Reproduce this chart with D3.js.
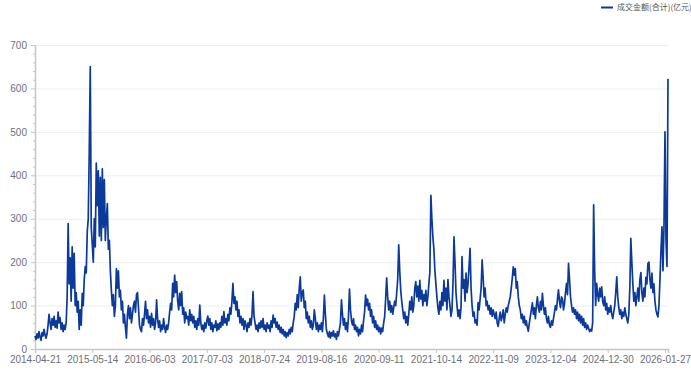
<!DOCTYPE html>
<meta charset="utf-8">
<style>
    body {
        margin: 0;
        background: #fff;
        font-family: 'Liberation Sans', Arial, sans-serif;
    }
    .axis text { fill: #6e7079; }
    .axis line, .axis path { stroke: #c4c6cc; }
</style>
<body>
<svg width="691" height="373" id="chart"></svg>
<script src="https://d3js.org/d3.v7.min.js"></script>
<script>

    // tick labels on the category axis, one every labelEvery points
    var dateLabels = ["2014-04-21", "2015-05-14", "2016-06-03", "2017-07-03", "2018-07-24", "2019-08-16",
        "2020-09-11", "2021-10-14", "2022-11-09", "2023-12-04", "2024-12-30", "2026-01-27"];
    var labelEvery = 57;

    var yTicks = [0, 100, 200, 300, 400, 500, 600, 700];
    var seriesName = "成交金额(合计)(亿元)";

    // turnover (one reading per pixel column)
    var turnover = [
        30,22,35,25,40,28,20,38,30,45,32,25,35,55,80,60,45,70,55,75,50,65,48,85,60,72,45,60,40,55,45,60,120,289,150,210,110,235,140,220,100,130,85,110,45,90,55,128,100,160,190,175,270,300,455,650,280,
        240,200,300,235,428,330,410,260,395,250,415,280,390,250,300,335,230,250,180,135,100,125,75,100,185,140,180,120,135,90,110,60,80,50,25,80,100,70,95,60,80,100,110,85,125,130,95,55,45,40,70,55,80,110,70,90,
        60,75,50,82,55,70,45,60,113,70,50,65,40,55,45,70,50,38,55,45,60,85,105,90,151,120,170,130,155,110,90,128,100,132,80,95,60,85,70,75,55,90,65,80,60,75,50,65,45,70,55,101,60,45,55,40,60,
        48,65,76,55,70,45,60,40,55,50,65,42,58,45,60,50,75,55,86,60,70,55,80,65,95,80,110,151,105,120,90,110,75,90,60,75,55,70,45,65,55,40,60,50,70,55,80,132,75,60,45,55,40,60,48,65,50,
        70,45,55,40,60,48,55,40,65,50,78,60,70,50,62,45,55,38,50,35,45,30,40,26,38,30,45,35,50,40,60,75,105,90,125,95,140,166,110,130,136,95,110,70,85,60,75,50,65,45,55,90,70,45,60,40,55,
        45,60,40,70,124,80,45,35,28,40,25,38,30,42,28,35,22,40,30,45,60,113,80,55,70,45,60,40,75,138,90,65,55,70,45,55,40,50,30,45,35,55,40,65,85,124,100,115,90,105,75,90,60,75,50,65,
        45,55,40,50,35,48,40,60,75,116,164,120,90,110,85,100,80,95,110,100,130,160,240,180,135,110,90,70,85,60,75,55,80,110,90,120,85,100,140,155,120,145,110,158,115,135,100,125,110,135,100,120,150,177,354,300,258,
        230,180,150,120,95,80,110,90,130,100,158,110,140,90,160,120,100,75,90,150,258,200,130,100,75,90,70,95,213,140,160,110,175,130,150,190,232,140,100,75,85,60,67,55,107,90,115,140,205,165,120,140,100,110,90,100,80,
        95,75,90,80,70,85,60,52,70,85,65,75,90,60,80,95,85,100,110,120,140,162,189,170,185,140,155,120,100,90,70,80,60,75,55,65,50,41,60,75,90,106,80,95,70,100,120,95,85,110,90,128,100,80,95,70,60,
        75,55,50,65,55,70,85,100,90,115,136,110,95,120,115,90,105,130,151,125,197,160,120,100,85,95,80,90,70,85,65,80,60,75,55,70,50,60,45,55,48,40,45,41,60,332,180,100,151,125,110,140,120,143,110,100,
        120,90,105,80,95,85,100,80,70,85,100,130,166,120,95,80,90,70,85,75,95,80,70,60,80,140,255,200,150,110,130,100,120,140,110,160,176,130,110,140,120,165,150,197,200,160,140,175,130,150,110,90,80,74,100,160,226,
        281,180,280,500,250,190,622
    ];

    var svg = d3.select("svg"),
        margin = {top: 45, right: 23, bottom: 24, left: 35},
        width = +svg.attr("width") - margin.left - margin.right,
        height = +svg.attr("height") - margin.top - margin.bottom,
        g = svg.append("g").attr("transform", "translate(" + margin.left + "," + margin.top + ")");

    var x = d3.scaleLinear()
        .domain([0, turnover.length - 1])
        .range([0, width]);

    var y = d3.scaleLinear()
        .domain([0, 700])
        .range([height, 0]);

    var lineColor = "#0b3a9a";

    // grid
    g.append("g")
        .selectAll("line")
        .data(yTicks.slice(1))
        .enter().append("line")
        .attr("x1", 0)
        .attr("x2", width)
        .attr("y1", function(d) { return y(d) + 0.5; })
        .attr("y2", function(d) { return y(d) + 0.5; })
        .attr("stroke", "#eceef4")
        .attr("stroke-width", 1);

    // minor ticks on y
    var minorTicks = d3.range(0, 701, 20).filter(function(d) { return d % 100 !== 0; });
    g.append("g")
        .attr("class", "axis")
        .call(d3.axisLeft(y).tickValues(minorTicks).tickSize(2).tickSizeOuter(0).tickFormat(""))
        .select(".domain").remove();

    g.append("g")
        .attr("class", "axis")
        .attr("font-size", 8.6)
        .attr("font-family", "'Liberation Sans', Arial, sans-serif")
        .call(d3.axisLeft(y).tickValues(yTicks).tickSize(4).tickSizeOuter(0).tickPadding(4))
        .select(".domain").attr("stroke-width", 1.5);

    var labelIdx = dateLabels.map(function(d, i) { return i * labelEvery; });

    g.append("g")
        .attr("class", "axis")
        .attr("transform", "translate(0," + height + ")")
        .attr("font-size", 8.6)
        .attr("font-family", "'Liberation Sans', Arial, sans-serif")
        .call(d3.axisBottom(x).tickValues(labelIdx).tickSize(4).tickSizeOuter(4).tickPadding(3)
            .tickFormat(function(d) { return dateLabels[d / labelEvery]; }))
        .select(".domain").attr("stroke-width", 1.5);

    var line = d3.line()
        .x(function(d, i) { return x(i); })
        .y(function(d) { return y(d); });

    g.append("path")
        .datum(turnover)
        .attr("fill", "none")
        .attr("stroke", lineColor)
        .attr("stroke-width", 1.7)
        .attr("stroke-linejoin", "round")
        .attr("d", line);

    // legend
    var legend = svg.append("g").attr("transform", "translate(601,7.5)");
    legend.append("line")
        .attr("x1", 0).attr("x2", 12)
        .attr("stroke", lineColor)
        .attr("stroke-width", 2);
    legend.append("text")
        .attr("x", 16)
        .attr("dy", "0.35em")
        .attr("font-size", 8)
        .attr("font-family", "'Noto Sans CJK SC', sans-serif")
        .attr("fill", "#555")
        .text(seriesName);

</script>
</body>
